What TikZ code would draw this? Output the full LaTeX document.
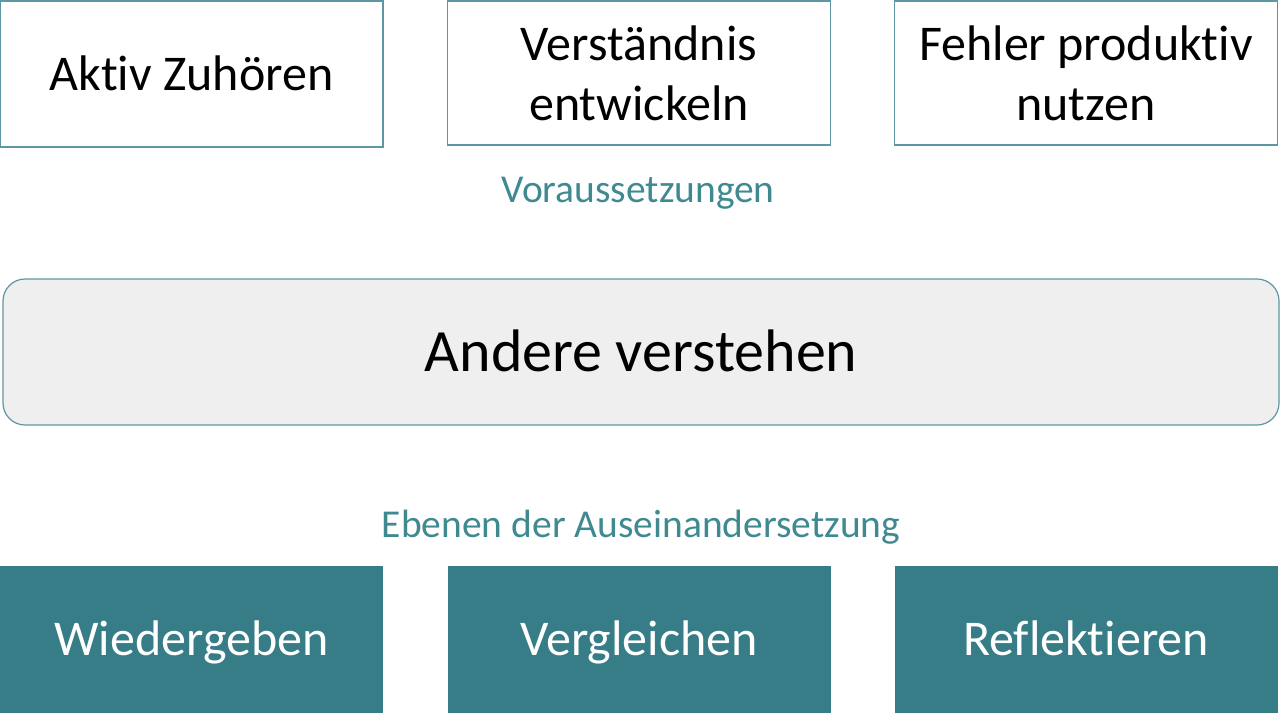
\documentclass[tikz,border=0pt]{standalone}
\usepackage{fontspec}
\setmainfont[Ligatures=NoCommon]{Carlito}
\definecolor{edge}{HTML}{5E96A3}
\definecolor{tealfill}{HTML}{367D87}
\definecolor{labeltxt}{HTML}{3F8A91}
\definecolor{midfill}{HTML}{EFEFEF}
\tikzset{
  topbox/.style={draw=edge, line width=1.2pt, fill=white, minimum width=383pt, minimum height=146pt, inner sep=0pt, align=center, font=\fontsize{50}{60}\selectfont, text=black},
  oneline/.style={text height=32pt, text depth=0pt},
  botbox/.style={fill=tealfill, minimum width=383pt, minimum height=147pt, inner sep=0pt, align=center, font=\fontsize{50}{60}\selectfont, text=white, text height=31pt, text depth=0pt},
  midbox/.style={draw=edge, line width=1.2pt, fill=midfill, rounded corners=22pt, minimum width=1276pt, minimum height=146pt, inner sep=0pt, font=\fontsize{60}{72}\selectfont, text=black, text height=38pt, text depth=0pt},
  grplabel/.style={anchor=base, inner sep=0pt, text=labeltxt, font=\fontsize{39.5}{47}\selectfont}
}
\begin{document}
\begin{tikzpicture}[x=1pt,y=-1pt]
\useasboundingbox (0,0) rectangle (1280,713);
\fill[white] (0,0) rectangle (1280,713);
\node[topbox, oneline] (t1) at (191.5,74) {Aktiv Zuhören};
\node[topbox, minimum height=144pt] (t2) at (639,73) {Verständnis\\entwickeln};
\node[topbox, minimum height=144pt] (t3) at (1086,73) {Fehler produktiv\\nutzen};
\node[grplabel] (l1) at (638,202) {Voraussetzungen};
\node[midbox] (m) at (641,352) {Andere verstehen};
\node[grplabel] (l2) at (641,537) {Ebenen der Auseinandersetzung};
\node[botbox] (b1) at (191.5,639.5) {Wiedergeben};
\node[botbox] (b2) at (639,639.5) {Vergleichen};
\node[botbox] (b3) at (1086,639.5) {Reflektieren};
\end{tikzpicture}
\end{document}
